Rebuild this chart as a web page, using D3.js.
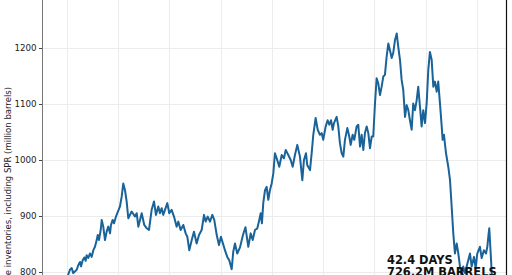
<!DOCTYPE html>
<html>
<head>
<meta charset="utf-8">
<script src="https://cdn.jsdelivr.net/npm/d3@7"></script>
<style>
  html, body { margin: 0; padding: 0; background: #fff; overflow: hidden; }
  svg { display: block; }
</style>
</head>
<body>
<svg id="chart" width="512" height="275"></svg>
<script>
// ---- data ----
const years = [
  1984.32, 1984.90,
  1985.29, 1985.46, 1985.61, 1985.95, 1986.10, 1986.27, 1986.37, 1986.53, 1986.69, 1986.82,
  1986.92, 1987.08, 1987.24, 1987.41, 1987.57, 1987.73, 1987.90, 1988.00, 1988.12, 1988.29,
  1988.39, 1988.54, 1988.71, 1988.87, 1989.03, 1989.20, 1989.29, 1989.46, 1989.59, 1989.78,
  1989.91, 1990.04, 1990.17, 1990.34, 1990.49, 1990.66, 1990.82,
  1990.98, 1991.31, 1991.63, 1991.80, 1991.96, 1992.29, 1992.54, 1992.78, 1993.00, 1993.26,
  1993.49, 1993.68, 1993.91, 1994.07, 1994.24, 1994.39, 1994.56, 1994.79, 1994.98, 1995.21,
  1995.44, 1995.70, 1995.86, 1996.09, 1996.35, 1996.58, 1996.74, 1996.93, 1997.17, 1997.39,
  1997.65, 1997.88, 1998.14, 1998.37, 1998.53, 1998.73, 1998.95, 1999.18, 1999.37, 1999.61,
  1999.83,
  2000.02, 2000.41, 2000.64, 2000.83, 2001.07, 2001.22, 2001.39, 2001.61, 2001.88, 2002.17,
  2002.41, 2002.69, 2002.92, 2003.12, 2003.34, 2003.57, 2003.76, 2003.90, 2004.02, 2004.15,
  2004.32, 2004.48, 2004.64, 2004.80, 2004.97, 2005.13, 2005.29, 2005.46, 2005.71, 2005.95,
  2006.17, 2006.34, 2006.59, 2006.83, 2007.02, 2007.24, 2007.47, 2007.73, 2007.96, 2008.12,
  2008.32, 2008.44, 2008.71, 2008.87,
  2009.03, 2009.26, 2009.46, 2009.68, 2009.85, 2010.00, 2010.24, 2010.43, 2010.59, 2010.76,
  2010.92, 2011.05, 2011.31, 2011.47, 2011.63, 2011.80, 2011.96, 2012.12, 2012.35, 2012.54,
  2012.68, 2012.87, 2013.03, 2013.26, 2013.42, 2013.59, 2013.75, 2013.91, 2014.07, 2014.24,
  2014.40, 2014.56, 2014.73, 2014.88, 2015.05, 2015.21, 2015.37, 2015.54, 2015.70, 2015.86,
  2016.02, 2016.19, 2016.35, 2016.51, 2016.68, 2016.83, 2017.00, 2017.17, 2017.32,
  2017.49, 2017.65, 2017.81, 2017.98, 2018.14, 2018.30, 2018.46, 2018.63, 2018.78, 2018.95,
  2019.12, 2019.27, 2019.44, 2019.60, 2019.76, 2019.93, 2020.09, 2020.25, 2020.41, 2020.58,
  2020.74, 2020.90, 2021.07, 2021.22, 2021.39, 2021.56, 2021.65, 2021.78, 2021.98, 2022.20,
  2022.37, 2022.53, 2022.69, 2022.85, 2023.02, 2023.18, 2023.34, 2023.51, 2023.66, 2023.83,
  2024.15, 2024.32, 2024.48, 2024.71, 2024.87, 2025.03, 2025.29, 2025.46, 2025.68, 2025.88,
  2026.01, 2026.14, 2026.20, 2026.34, 2026.44, 2026.53
];
const inventories = [
  768, 784,
  804, 807, 798, 804, 812, 818, 810, 821, 826, 820,
  830, 825, 833, 827, 839, 845, 857, 866, 857, 875,
  893, 881, 857, 872, 881, 869, 884, 893, 887, 899,
  905, 911, 917, 935, 958, 946, 926,
  896, 908, 899, 905, 881, 905, 884, 878, 875, 911,
  926, 902, 917, 905, 914, 902, 911, 923, 905, 911,
  899, 881, 890, 875, 884, 869, 863, 839, 857, 872,
  851, 866, 875, 902, 890, 899, 890, 902, 893, 866,
  848,
  863, 839, 827, 821, 805, 836, 851, 833, 844, 866,
  880, 845, 869, 857, 875, 878, 893, 905, 887, 923,
  946, 952, 929, 946, 958, 976, 1012, 1003, 988, 1009,
  1003, 1018, 1009, 1000, 988, 1009, 1027, 1006, 964, 1000,
  1012, 991, 982, 1012,
  1045, 1075, 1054, 1045, 1048, 1036, 1060, 1071, 1063, 1071,
  1054, 1066, 1077, 1060, 1030, 1012, 1006, 1036, 1057, 1042,
  1027, 1045, 1036, 1060, 1063, 1024, 1045, 1018, 1048, 1060,
  1048, 1021, 1042, 1042, 1101, 1146, 1137, 1116, 1131, 1149,
  1152, 1185, 1208, 1196, 1182, 1191, 1214, 1226, 1202,
  1179, 1143, 1125, 1077, 1098, 1089, 1071, 1054, 1101, 1089,
  1107, 1131, 1095, 1060, 1089, 1066, 1101, 1161, 1193, 1179,
  1131, 1140, 1122, 1140, 1101, 1060, 1036, 1045, 1012, 988,
  964, 917, 869, 833, 851, 833, 810, 792, 810, 798,
  821, 833, 810, 827, 807, 833, 845, 825, 839, 833,
  845, 869, 878, 833, 798, 768
];
const yTicks = [800, 900, 1000, 1100, 1200];
const xGridYears = [1985, 1990, 1995, 2000, 2005, 2010, 2015, 2020, 2025];
const xDomain = [1982.66, 2027.93];
const yDomain = [800, 1200];
const yLabelText = "U.S. crude inventories, including SPR (million barrels)";
const annotationLines = ["42.4 DAYS", "726.2M BARRELS"];

// ---- layout ----
const W = 512, H = 275;
const plotLeft = 43, plotRight = 507;
const svg = d3.select("#chart");

const x = d3.scaleLinear().domain(xDomain).range([plotLeft, plotRight]);
const y = d3.scaleLinear().domain(yDomain).range([272, 48]);

const font = "'DejaVu Sans', sans-serif";

// gridlines
svg.append("g").selectAll("line.vg").data(xGridYears).join("line")
  .attr("x1", d => Math.round(x(d)) + 0.5).attr("x2", d => Math.round(x(d)) + 0.5)
  .attr("y1", 0).attr("y2", H)
  .attr("stroke", "#ececec").attr("stroke-width", 1);
svg.append("g").selectAll("line.hg").data(yTicks).join("line")
  .attr("x1", plotLeft).attr("x2", plotRight)
  .attr("y1", d => Math.round(y(d)) + 0.5).attr("y2", d => Math.round(y(d)) + 0.5)
  .attr("stroke", "#ececec").attr("stroke-width", 1);

// clip for line
svg.append("defs").append("clipPath").attr("id", "plotclip")
  .append("rect").attr("x", plotLeft).attr("y", -50).attr("width", plotRight - plotLeft).attr("height", H + 100);

const line = d3.line()
  .x((d, i) => x(years[i]))
  .y(d => y(d));

svg.append("path")
  .datum(inventories)
  .attr("clip-path", "url(#plotclip)")
  .attr("fill", "none")
  .attr("stroke", "#1a6399")
  .attr("stroke-width", 2)
  .attr("stroke-linejoin", "round")
  .attr("d", line);

// y axis
const yAxis = d3.axisLeft(y).tickValues(yTicks).tickSize(3.5).tickPadding(2.5).tickFormat(d3.format("d"));
const gy = svg.append("g").attr("transform", `translate(${plotLeft - 0.5},0)`).call(yAxis);
gy.select(".domain").remove();
gy.selectAll(".tick line").attr("stroke", "#444");
gy.selectAll(".tick text").attr("font-family", font).attr("font-size", 8.7).attr("fill", "#222");

// spines
svg.append("line").attr("x1", plotLeft - 0.5).attr("x2", plotLeft - 0.5).attr("y1", 0).attr("y2", H)
  .attr("stroke", "#777").attr("stroke-width", 1);
svg.append("line").attr("x1", plotRight - 0.5).attr("x2", plotRight - 0.5).attr("y1", 0).attr("y2", H)
  .attr("stroke", "#111").attr("stroke-width", 1.2);

// y label (rotated, extends beyond the bottom edge)
svg.append("text")
  .attr("transform", "translate(11,87) rotate(-90)")
  .attr("text-anchor", "end")
  .attr("font-family", font).attr("font-size", 8.5).attr("fill", "#222")
  .text(yLabelText);

// annotation
svg.append("g").selectAll("text").data(annotationLines).join("text")
  .attr("x", 387).attr("y", (d, i) => 263.5 + i * 12)
  .attr("font-family", font).attr("font-weight", "bold").attr("font-size", 11.4)
  .attr("fill", "#111")
  .text(d => d);
</script>
</body>
</html>
